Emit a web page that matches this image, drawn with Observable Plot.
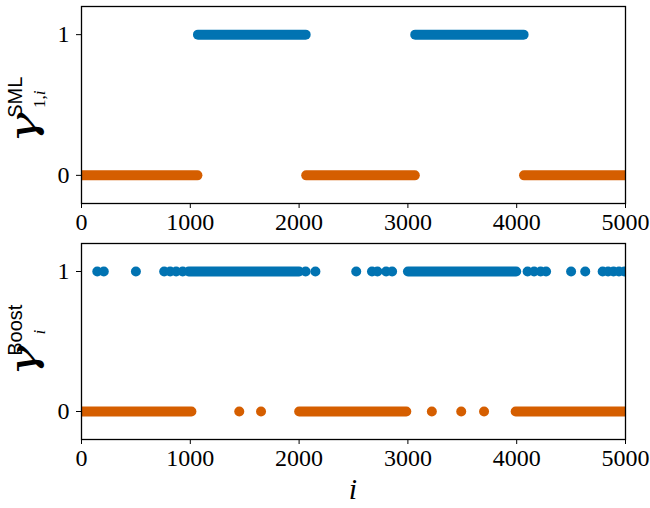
<!DOCTYPE html>
<html><head><meta charset="utf-8">
<script src="https://cdn.jsdelivr.net/npm/d3@7"></script>
<script src="https://cdn.jsdelivr.net/npm/@observablehq/plot@0.6"></script>
<style>body{margin:0;background:#fff} #chart{width:650px} svg{display:block}</style>
</head><body><div id="chart"></div>
<script>
const xTicks = [0, 1000, 2000, 3000, 4000, 5000];
const yTicks = [0, 1];
// top panel (SML): runs of consecutive indices [start, end]
const smlRuns0 = [[0, 1070], [2070, 3068], [4072, 5000]];
const smlRuns1 = [[1075, 2065], [3072, 4068]];
// bottom panel (Boost)
const boostRuns0 = [[0, 1015], [2005, 2990], [3995, 5000]];
const boostDots0 = [1450, 1650, 3220, 3490, 3700];
const boostRuns1 = [[990, 2005], [3005, 4000]];
const boostDots1 = [145, 205, 500, 760, 815, 870, 930, 2060, 2150, 2525, 2670, 2720, 2800, 2855,
  4100, 4160, 4220, 4270, 4500, 4630, 4790, 4840, 4890, 4940, 4990];

const blue = "#0173B2", orange = "#D55E00";
const R = 5;
const serif = "'Liberation Serif', serif";

function panel({height, marginTop, marginBottom, runs0, runs1, dots0, dots1}) {
  return Plot.plot({
    width: 650, height, marginLeft: 81, marginRight: 25, marginTop, marginBottom,
    x: {domain: [0, 5000]}, y: {domain: [-0.2, 1.2]},
    style: {fontFamily: serif, fontSize: "24px", background: "white", color: "black"},
    marks: [
      Plot.ruleY(runs0, {x1: d => d[0], x2: d => d[1], y: () => 0, stroke: orange, strokeWidth: 2 * R, strokeLinecap: "round", clip: true}),
      Plot.ruleY(runs1, {x1: d => d[0], x2: d => d[1], y: () => 1, stroke: blue, strokeWidth: 2 * R, strokeLinecap: "round", clip: true}),
      Plot.dot(dots0, {x: d => d, y: () => 0, r: R, fill: orange, clip: true}),
      Plot.dot(dots1, {x: d => d, y: () => 1, r: R, fill: blue, clip: true}),
      Plot.frame({stroke: "black", strokeWidth: 1.3}),
      Plot.axisX({ticks: xTicks, tickSize: 5, tickPadding: 4, label: null, fontSize: 24, tickFormat: d => String(d)}),
      Plot.axisY({ticks: yTicks, tickSize: 5, tickPadding: 7, label: null, fontSize: 24, tickFormat: d => String(d)})
    ]
  });
}

const chart = document.getElementById("chart");
const top1 = panel({height: 236, marginTop: 6, marginBottom: 33, runs0: smlRuns0, runs1: smlRuns1, dots0: [], dots1: []});
const bot = panel({height: 272, marginTop: 7, marginBottom: 69, runs0: boostRuns0, runs1: boostRuns1, dots0: boostDots0, dots1: boostDots1});
chart.appendChild(top1);
chart.appendChild(bot);

function txt(parent, family, size, italic) {
  return parent.append("text").style("font-family", family).style("font-size", size + "px")
    .style("font-style", italic ? "italic" : "normal").attr("fill", "black");
}
function yLabel(svg, cx, cy, sup, subParts) {
  const g = d3.select(svg).append("g").attr("transform", `translate(${cx},${cy}) rotate(-90)`);
  const inner = g.append("g");
  const sx = 1.35;
  const gam = txt(inner, "'DejaVu Serif', serif", 38, true).attr("transform", `scale(${sx},1)`).text("γ");
  const gw = gam.node().getComputedTextLength() * sx;
  const supT = txt(inner, "'Liberation Sans', sans-serif", 20, false).attr("x", gw).attr("y", -14).text(sup);
  const subT = txt(inner, serif, 17, false).attr("x", gw - 2).attr("y", 9);
  subParts.forEach(([t, it]) => subT.append("tspan").style("font-style", it ? "italic" : "normal").text(t));
  const total = gw + Math.max(supT.node().getComputedTextLength(), subT.node().getComputedTextLength());
  inner.attr("transform", `translate(${-total / 2},0)`);
}
yLabel(top1, 36, 92, "SML", [["1,", false], ["i", true]]);
yLabel(bot, 36, 84, "Boost", [["i", true]]);

txt(d3.select(bot), serif, 30, true).attr("x", 81 + 272).attr("y", 263).attr("text-anchor", "middle").text("i");
</script>
</body></html>
